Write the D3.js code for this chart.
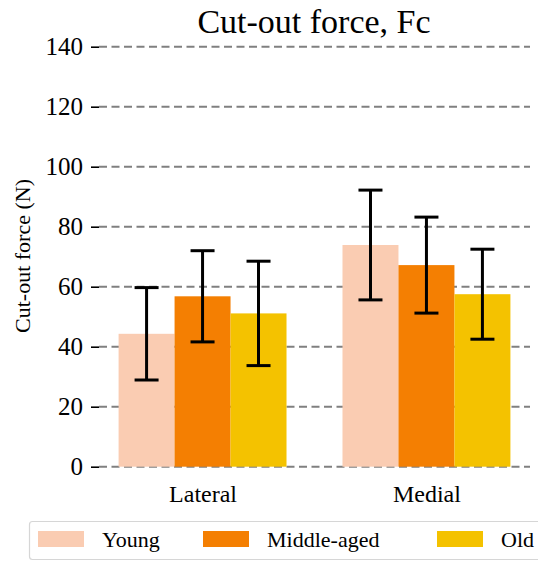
<!DOCTYPE html>
<html>
<head>
<meta charset="utf-8">
<script src="https://cdn.jsdelivr.net/npm/d3@7"></script>
<style>
  html, body { margin: 0; padding: 0; background: #fff; }
  svg { display: block; }
  text { font-family: "Liberation Serif", "Times New Roman", serif; fill: #000; }
  .ytick text { font-family: "Liberation Serif", "Times New Roman", serif !important; font-size: 25px !important; }
  .xtick text { font-family: "Liberation Serif", "Times New Roman", serif !important; font-size: 24px !important; }
</style>
</head>
<body>
<svg id="chart" width="538" height="561"></svg>
<script>
const categories = ["Lateral", "Medial"];
const groups = ["Young", "Middle-aged", "Old"];
const young = [44.3, 73.9];
const youngErr = [15.4, 18.3];
const middle = [56.8, 67.2];
const middleErr = [15.2, 16.0];
const old = [51.1, 57.5];
const oldErr = [17.4, 15.0];
const yTicks = [0, 20, 40, 60, 80, 100, 120, 140];
const colors = ["#FACCB2", "#F47F02", "#F4C200"];

(function () {
const series = [
  { name: groups[0], values: young, errs: youngErr, color: colors[0] },
  { name: groups[1], values: middle, errs: middleErr, color: colors[1] },
  { name: groups[2], values: old, errs: oldErr, color: colors[2] }
];

const svg = d3.select("#chart");
const mLeft = 99, mRight = 530, mTop = 46.7, mBottom = 466.7;
const serif = '"Liberation Serif", "Times New Roman", serif';

const barW = 0.25;
const x = d3.scaleLinear().domain([-0.4625, 1.4625]).range([mLeft, mRight]);
const y = d3.scaleLinear().domain([0, 140]).range([mBottom, mTop]);

// grid
svg.append("g").selectAll("line").data(yTicks).join("line")
  .attr("x1", mLeft).attr("x2", mRight)
  .attr("y1", d => y(d)).attr("y2", d => y(d))
  .attr("stroke", "#808080").attr("stroke-width", 2)
  .attr("stroke-dasharray", "8,4.5");

// y axis (ticks only, no spine)
const yAxis = d3.axisLeft(y).tickValues(yTicks).tickFormat(d3.format("d")).tickSize(8).tickPadding(8);
const gy = svg.append("g").attr("class", "ytick").attr("transform", `translate(${mLeft},0)`).call(yAxis);
gy.attr("font-family", serif).attr("font-size", 25);
gy.select(".domain").remove();
gy.selectAll(".tick line").attr("stroke", "#000").attr("stroke-width", 1.6);
gy.selectAll("text").attr("font-family", serif).attr("font-size", 25);

// bars
series.forEach((s, i) => {
  const off = (i - 1) * barW;
  svg.append("g").selectAll("rect").data(s.values).join("rect")
    .attr("x", (d, j) => x(j + off - barW / 2))
    .attr("width", x(barW) - x(0))
    .attr("y", d => y(d))
    .attr("height", d => y(0) - y(d))
    .attr("fill", s.color);
});

// error bars
series.forEach((s, i) => {
  const off = (i - 1) * barW;
  const g = svg.append("g").attr("stroke", "#000").attr("stroke-width", 3);
  s.values.forEach((v, j) => {
    const cx = x(j + off);
    const lo = y(v - s.errs[j]), hi = y(v + s.errs[j]);
    g.append("line").attr("x1", cx).attr("x2", cx).attr("y1", lo).attr("y2", hi);
    g.append("line").attr("x1", cx - 12).attr("x2", cx + 12).attr("y1", lo).attr("y2", lo);
    g.append("line").attr("x1", cx - 12).attr("x2", cx + 12).attr("y1", hi).attr("y2", hi);
  });
});

// x labels
const xAxis = d3.axisBottom(x).tickValues([0, 1]).tickFormat((d) => categories[d]).tickSize(0).tickPadding(18);
const gx = svg.append("g").attr("class", "xtick").attr("transform", `translate(0,${mBottom})`).call(xAxis);
gx.attr("font-family", serif).attr("font-size", 24);
gx.select(".domain").remove();

// title
svg.append("text").attr("x", 314).attr("y", 33).attr("text-anchor", "middle")
  .style("font-size", "34px").text("Cut-out force, Fc");

// y label
svg.append("text").attr("transform", "translate(30,256) rotate(-90)")
  .attr("text-anchor", "middle").style("font-size", "22px").text("Cut-out force (N)");

// legend
const lg = svg.append("g");
lg.append("rect").attr("x", 29.5).attr("y", 521.5).attr("width", 530).attr("height", 38)
  .attr("rx", 3).attr("fill", "#fff").attr("stroke", "#d6d6d6").attr("stroke-width", 1.2);
const legX = [38, 203, 437];
series.forEach((s, i) => {
  lg.append("rect").attr("x", legX[i]).attr("y", 531).attr("width", 46).attr("height", 16).attr("fill", s.color);
  lg.append("text").attr("x", legX[i] + 64).attr("y", 547).style("font-size", "22px").text(s.name);
});
})();
</script>
</body>
</html>
